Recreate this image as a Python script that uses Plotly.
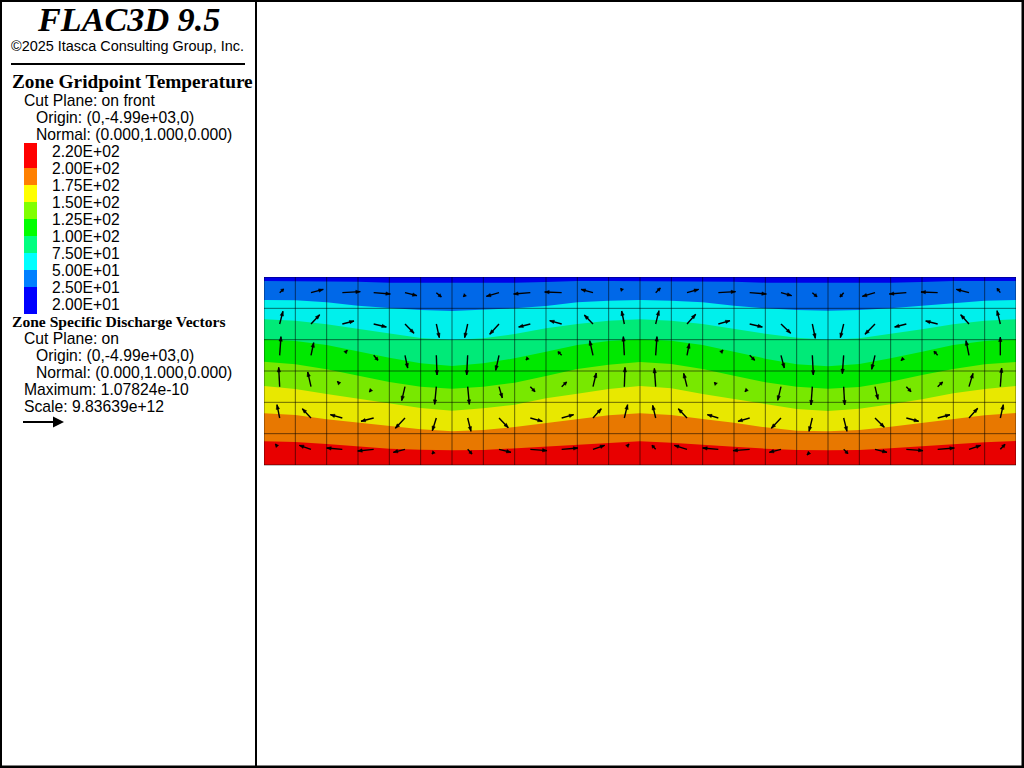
import numpy as np
import plotly.graph_objects as go

W, H = 1024, 768
ZONE = 94.0            # model units per zone
N_COL, N_ROW = 24, 6

LEGEND_LABELS = ["2.20E+02", "2.00E+02", "1.75E+02", "1.50E+02", "1.25E+02",
                 "1.00E+02", "7.50E+01", "5.00E+01", "2.50E+01", "2.00E+01"]
LEGEND_COLORS = ["#ff0000", "#ff8000", "#ffff00", "#80ff00", "#00ff00",
                 "#00ff80", "#00ffff", "#0080ff", "#0000ff"]
BAND_COLORS = ["#0000e8", "#0068e8", "#00f0ec", "#00ea78", "#00e800",
               "#78e800", "#e8e800", "#e87800", "#e80000"]

# depth of each isotherm below the model top, at each of the 25 gridpoint columns
ISO_A = [12,12,12,14,17,17,18,17,17,15,12,12,12,12,12,14,17,17,18,17,17,15,12,12,12]
ISO_B = [69,70,76,86,93,99,102,99,94,87,76,71,69,71,76,86,94,99,101,99,94,86,78,71,69]
ISO_C = [127,131,142,156,171,183,189,184,171,154,141,131,127,131,141,156,170,182,188,184,171,157,142,131,127]
ISO_D = [187,192,204,224,242,259,267,259,244,224,204,192,187,191,204,224,245,262,268,261,244,224,204,192,187]
ISO_E = [254,262,277,295,315,329,335,329,317,297,276,263,255,261,276,296,316,329,335,330,314,294,276,262,255]
ISO_F = [327,336,351,365,379,393,401,394,383,364,350,336,327,334,351,366,383,396,402,395,382,367,349,336,327]
ISO_G = [409,414,427,437,448,457,463,459,450,439,427,415,409,414,426,437,451,461,463,459,449,437,427,415,408]
ISO_H = [493,495,501,509,515,518,520,519,514,509,502,497,493,497,502,509,515,519,520,519,514,509,502,496,492]

# specific discharge at zone centres (x to the right, y upward), one list per row, top row first
VX_0 = [4,12.3,18,16.7,12,5,-4.3,-12.7,-16.7,-17,-12,-3.7,4.7,11.7,17.3,16.7,10.7,4.7,-3.7,-12.7,-17,-16.7,-12.7,-3.3]
VY_0 = [3.7,3.3,1,-1.3,-3,-4.3,-4,-3.7,-1.3,0.7,3.3,4.3,4.7,3.3,1,-1.3,-3,-4,-4.3,-3.7,-1.3,0.7,3.3,4.3]
VX_1 = [3.3,8.7,11.7,12.7,9,3,-3,-9.3,-11.7,-12,-8.7,-2.7,3.3,8.7,11.7,12.7,9.7,3,-3.3,-10,-11.7,-12,-8.3,-3.3]
VY_1 = [12.7,9.3,3,-3,-9.3,-13.7,-13.7,-10.3,-3,3.3,9,13,13.3,9.7,3.3,-3,-9.3,-14.3,-13.7,-10.3,-3,3,9.3,13.3]
VX_2 = [1.3,2.7,5,4.3,2.7,0.7,-1,-3.3,-4.3,-3.7,-3.3,-1,1.3,2.3,4.7,5,3.3,1,-1.3,-3.3,-5.3,-3.7,-3,0]
VY_2 = [18.7,12.7,5,-5,-12.7,-19.7,-19.7,-15,-4.7,3.7,14.7,18.7,18.7,11.7,5.3,-5,-12.7,-19.7,-18.3,-14,-5.3,4,14.7,18.3]
VX_3 = [-1,-3.3,-5,-4.3,-3.3,-1.7,1.7,3.3,4.7,5,3.3,0.7,-1.3,-3.3,-4,-4.7,-3.3,-1.3,1,3,4.7,5,4,1.3]
VY_3 = [19.3,14.7,5.3,-5.3,-14,-17.7,-17.7,-11.3,-5,4.7,13.7,19.3,18.3,13.3,4.3,-5,-13.7,-18.3,-18.3,-12.7,-5,4.7,13.3,18.7]
VX_4 = [-2.7,-8.7,-12,-12.7,-9.7,-4,3.3,9.3,12,12,8.3,3.3,-3,-8.7,-11,-11.7,-9.7,-3.3,3.3,9.3,12.3,12.3,8.7,3]
VY_4 = [13.3,9.3,3.3,-3.3,-10.3,-12.7,-13.3,-9.7,-3.3,3.3,9.3,13.3,12.7,9.3,3.3,-3.3,-10.3,-13.3,-13.3,-9.3,-3.3,3.3,9.7,13.3]
VX_5 = [-4.3,-11.7,-15.7,-16,-11.7,-4.3,4.3,12,16.7,16.3,11.7,4.7,-3.7,-12.7,-15.7,-16.7,-11.7,-5.3,4.3,12,16.7,16.7,11.7,4.7]
VY_5 = [5.3,4,1.3,-1.7,-3,-4.7,-4.7,-3,-1.3,1.3,4,5.3,4,4,1.3,-1.3,-3,-5.7,-4.3,-3,-1.3,1.3,4,5]

# zones (row, column) where the shaft is mostly buried in the contour plane
BURIED = [(0,6),(0,11),(2,2),(2,8),(2,14),(2,20),(3,2),(3,3),(3,14),(3,15),(5,0),(5,5),(5,11),(5,17)]

TITLE = "FLAC3D 9.5"
COPYRIGHT = "©2025 Itasca Consulting Group, Inc."
HEAD1 = "Zone Gridpoint Temperature"
HEAD2 = "Zone Specific Discharge Vectors"
LINES1 = [(22.5, 100, "Cut Plane: on front"),
          (34.5, 117.5, "Origin: (0,-4.99e+03,0)"),
          (34.5, 134.5, "Normal: (0.000,1.000,0.000)")]
LINES2 = [(22.5, 338.5, "Cut Plane: on"),
          (34.5, 355.5, "Origin: (0,-4.99e+03,0)"),
          (34.5, 372.5, "Normal: (0.000,1.000,0.000)"),
          (22.5, 389.5, "Maximum: 1.07824e-10"),
          (22.5, 406.5, "Scale: 9.83639e+12")]

SANS = "Liberation Sans"
SERIF = "Liberation Serif"
VEC_SCALE = 3.0        # model units per discharge unit

xg = np.arange(N_COL + 1) * ZONE
yg = np.arange(N_ROW + 1) * ZONE
bottom = N_ROW * ZONE
width = N_COL * ZONE

fig = go.Figure()

# contour bands, painted top to bottom
isos = [np.zeros(25), ISO_A, ISO_B, ISO_C, ISO_D, ISO_E, ISO_F, ISO_G, ISO_H]
for color, iso in zip(BAND_COLORS, isos):
    fig.add_trace(go.Scatter(
        x=list(xg) + [width, 0], y=list(iso) + [bottom, bottom],
        mode="lines", fill="toself", fillcolor=color, line=dict(width=0),
        hoverinfo="skip"))

# zone grid
gx, gy = [], []
for v in xg:
    gx += [v, v, None]; gy += [0, bottom, None]
for v in yg:
    gx += [0, width, None]; gy += [v, v, None]
fig.add_trace(go.Scatter(x=gx, y=gy, mode="lines",
                         line=dict(color="rgba(0,0,0,0.55)", width=1), hoverinfo="skip"))

# vectors
VX = np.array([VX_0, VX_1, VX_2, VX_3, VX_4, VX_5], float)
VY = np.array([VY_0, VY_1, VY_2, VY_3, VY_4, VY_5], float)
sx, sy, hx, hy = [], [], [], []
for r in range(N_ROW):
    for c in range(N_COL):
        x0 = (c + 0.5) * ZONE
        y0 = (r + 0.5) * ZONE
        dx = VX[r, c] * VEC_SCALE
        dy = -VY[r, c] * VEC_SCALE
        L = np.hypot(dx, dy)
        ux, uy = dx / L, dy / L
        start = 0.6 if (r, c) in BURIED else 0.0
        x1, y1 = x0 + dx, y0 + dy
        sx += [x0 + start * dx, x1, None]
        sy += [y0 + start * dy, y1, None]
        hl = min(4.5 * VEC_SCALE, 0.45 * L)
        hw = 1.7 * VEC_SCALE
        bx, by = x1 - ux * hl, y1 - uy * hl
        hx += [x1, bx - uy * hw, bx + uy * hw, x1, None]
        hy += [y1, by + ux * hw, by - ux * hw, y1, None]
fig.add_trace(go.Scatter(x=sx, y=sy, mode="lines", line=dict(color="black", width=1.4),
                         hoverinfo="skip"))
fig.add_trace(go.Scatter(x=hx, y=hy, mode="lines", fill="toself", fillcolor="black",
                         line=dict(color="black", width=0.5), hoverinfo="skip"))


def px(x):
    return x / W


def py(y):
    return 1 - y / H


def text(x, y, s, size, family=SANS, anchor="left"):
    return dict(x=px(x), y=py(y), xref="paper", yref="paper", text=s, showarrow=False,
                xanchor=anchor, yanchor="middle", align="left", borderpad=0,
                font=dict(family=family, size=size, color="black"))


ann = [text(128.5, 19, f"<b><i>{TITLE}</i></b>", 34.2, SERIF, "center"),
       text(127.5, 46, COPYRIGHT, 14.45, SANS, "center"),
       text(10.5, 81, f"<b>{HEAD1}</b>", 19.3, SERIF),
       text(10.5, 322, f"<b>{HEAD2}</b>", 15.6, SERIF)]
for x, y, s in LINES1 + LINES2:
    ann.append(text(x, y, s, 15.7, SANS))
for i, lab in enumerate(LEGEND_LABELS):
    ann.append(text(50.5, 151.3 + 17 * i, lab, 15.7, SANS))


def rect(x0, y0, x1, y1, color):
    return dict(type="rect", xref="paper", yref="paper", x0=px(x0), x1=px(x1), y0=py(y0), y1=py(y1),
                fillcolor=color, line=dict(width=0), layer="above")


shapes = [rect(0, 0, 1024, 2, "black"), rect(0, 765.5, 1024, 768, "black"),
          rect(0, 0, 2, 768, "black"), rect(1021.5, 0, 1024, 768, "black"),
          rect(255, 0, 257, 768, "black"), rect(11, 63, 245, 65, "black"),
          rect(264, 465, 1016, 466, "#c4c4c4")]
edges = [143, 168, 185, 202, 219, 236, 253, 270, 287, 314]
for i, color in enumerate(LEGEND_COLORS):
    shapes.append(rect(24, edges[i], 37, edges[i + 1], color))
shapes.append(rect(23, 421, 54, 423, "black"))
shapes.append(dict(type="path", xref="paper", yref="paper", layer="above",
                   path=f"M {px(53)} {py(416.5)} L {px(64)} {py(422)} L {px(53)} {py(427.5)} Z",
                   fillcolor="black", line=dict(width=0)))

fig.update_layout(
    width=W, height=H, autosize=False,
    margin=dict(l=0, r=0, t=0, b=0, pad=0),
    paper_bgcolor="white", plot_bgcolor="white", showlegend=False,
    xaxis=dict(domain=[264 / W, 1016 / W], range=[0, width], visible=False, fixedrange=True),
    yaxis=dict(domain=[1 - 465 / H, 1 - 277 / H], range=[bottom, 0], visible=False, fixedrange=True),
    annotations=ann, shapes=shapes)

fig.write_html("out.html", config={"displayModeBar": False},
               post_script="document.body.style.margin='0';document.body.style.overflow='hidden';")
